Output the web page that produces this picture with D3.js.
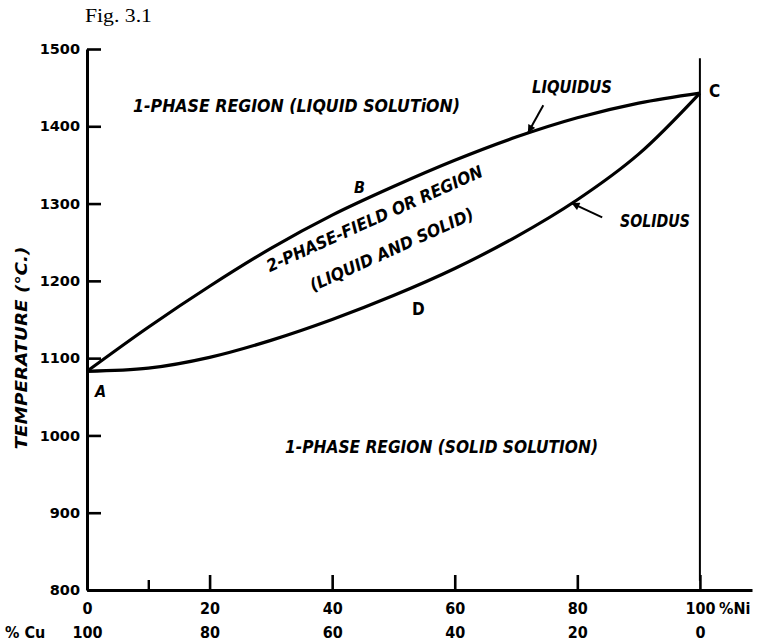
<!DOCTYPE html>
<html>
<head>
<meta charset="utf-8">
<script src="https://cdn.jsdelivr.net/npm/d3@7"></script>
<style>
  html, body { margin: 0; padding: 0; background: #fff; }
  svg { display: block; }
  .cond { font-family: "DejaVu Sans Condensed", "DejaVu Sans", sans-serif; font-weight: bold; }
</style>
</head>
<body>
<svg id="chart" width="765" height="643"></svg>
<script>
// Copper–nickel equilibrium diagram: liquidus and solidus temperature (°C) against nickel content (%)
const nickel       = [0, 10, 20, 30, 40, 50, 60, 70, 80, 90, 100];
const liquidus     = [1083, 1140, 1193, 1242, 1285, 1322, 1356, 1386, 1411, 1430, 1443];
const solidus      = [1083, 1087, 1101, 1123, 1150, 1181, 1216, 1257, 1305, 1364, 1443];
const tempTicks    = [800, 900, 1000, 1100, 1200, 1300, 1400, 1500];
const nickelTicks  = [0, 20, 40, 60, 80, 100];
const minorTicks   = [10];
const copperLabels = [100, 80, 60, 40, 20, 0];
// where the two labelling arrows touch the curves (nickel %)
const liquidusArrowAt = 72;
const solidusArrowAt  = 79;

const svg = d3.select("#chart");

const x = d3.scaleLinear().domain([0, 108.5]).range([87, 752]);
const y = d3.scaleLinear().domain([800, 1500]).range([590, 49]);

const liqPts = nickel.map((n, i) => [n, liquidus[i]]);
const solPts = nickel.map((n, i) => [n, solidus[i]]);
const interp = (pts, n) => {
  const i = Math.min(pts.length - 2, Math.floor(n / 10));
  const t = (n - pts[i][0]) / (pts[i + 1][0] - pts[i][0]);
  return pts[i][1] + t * (pts[i + 1][1] - pts[i][1]);
};

// ---- axes ----
const yAxis = d3.axisLeft(y).tickValues(tempTicks).tickFormat(d3.format("d"))
  .tickSizeInner(-14).tickSizeOuter(0).tickPadding(7);
const yG = svg.append("g").attr("transform", `translate(${x(0)},0)`).call(yAxis);
yG.select(".domain").attr("stroke", "#000").attr("stroke-width", 3);
yG.selectAll(".tick line").attr("stroke", "#000").attr("stroke-width", 2.6);
yG.selectAll(".tick text")
  .attr("font-family", "'DejaVu Sans', sans-serif").attr("font-weight", "bold")
  .attr("font-size", 14.5).attr("fill", "#000");

const xAxis = d3.axisBottom(x).tickValues(nickelTicks)
  .tickSizeInner(-15).tickSizeOuter(0).tickPadding(13);
const xG = svg.append("g").attr("transform", `translate(0,${y(800)})`).call(xAxis);
xG.select(".domain").attr("stroke", "#000").attr("stroke-width", 3);
xG.selectAll(".tick line").attr("stroke", "#000").attr("stroke-width", 2.6);
xG.selectAll(".tick text").attr("class", "cond").attr("font-size", 16).attr("fill", "#000");

const xMinor = d3.axisBottom(x).tickValues(minorTicks).tickSizeInner(-10).tickSizeOuter(0).tickFormat("");
const xmG = svg.append("g").attr("transform", `translate(0,${y(800)})`).call(xMinor);
xmG.select(".domain").remove();
xmG.selectAll(".tick line").attr("stroke", "#000").attr("stroke-width", 2.4);

const cuAxis = d3.axisBottom(x).tickValues(nickelTicks)
  .tickSize(0).tickPadding(37).tickFormat((d, i) => copperLabels[i]);
const cuG = svg.append("g").attr("transform", `translate(0,${y(800)})`).call(cuAxis);
cuG.select(".domain").remove();
cuG.selectAll(".tick text").attr("class", "cond").attr("font-size", 16).attr("fill", "#000");

svg.append("text").attr("class", "cond").attr("x", 719).attr("y", y(800) + 13 + 11.4)
  .attr("font-size", 16).text("%Ni");
svg.append("text").attr("class", "cond").attr("x", 5).attr("y", y(800) + 37 + 11.4)
  .attr("font-size", 16).text("% Cu");

// pure nickel boundary
svg.append("line")
  .attr("x1", x(100)).attr("x2", x(100))
  .attr("y1", y(1488)).attr("y2", y(812))
  .attr("stroke", "#000").attr("stroke-width", 2);

// ---- liquidus & solidus ----
const line = d3.line().x(d => x(d[0])).y(d => y(d[1])).curve(d3.curveCatmullRom.alpha(0.5));
svg.append("path").datum(liqPts).attr("d", line)
  .attr("fill", "none").attr("stroke", "#000").attr("stroke-width", 3.2).attr("stroke-linejoin", "round");
svg.append("path").datum(solPts).attr("d", line)
  .attr("fill", "none").attr("stroke", "#000").attr("stroke-width", 3.2).attr("stroke-linejoin", "round");

// ---- arrows naming the curves ----
svg.append("defs").append("marker")
  .attr("id", "head").attr("viewBox", "0 0 10 10").attr("refX", 9).attr("refY", 5)
  .attr("markerWidth", 9).attr("markerHeight", 8).attr("markerUnits", "userSpaceOnUse")
  .attr("orient", "auto")
  .append("path").attr("d", "M0,0L10,5L0,10Z").attr("fill", "#000");

const lx = x(liquidusArrowAt), ly = y(interp(liqPts, liquidusArrowAt));
svg.append("line").attr("x1", lx + 15).attr("y1", ly - 28).attr("x2", lx).attr("y2", ly - 1)
  .attr("stroke", "#000").attr("stroke-width", 2).attr("marker-end", "url(#head)");
const sx = x(solidusArrowAt), sy = y(interp(solPts, solidusArrowAt));
svg.append("line").attr("x1", sx + 31).attr("y1", sy + 14).attr("x2", sx + 1).attr("y2", sy)
  .attr("stroke", "#000").attr("stroke-width", 2).attr("marker-end", "url(#head)");

// ---- text ----
svg.append("text").attr("x", 85).attr("y", 22)
  .attr("font-family", "'Liberation Serif', serif").attr("font-size", 19)
  .attr("textLength", 67).attr("lengthAdjust", "spacingAndGlyphs").text("Fig. 3.1");

const label = (txt, px, py, size, len, opts = {}) => {
  const t = svg.append("text").attr("class", "cond").attr("font-size", size)
    .attr("x", px).attr("y", py).attr("font-style", opts.italic === false ? "normal" : "italic")
    .attr("text-anchor", opts.anchor || "start").text(txt);
  if (len) t.attr("textLength", len).attr("lengthAdjust", "spacingAndGlyphs");
  if (opts.rotate) t.attr("transform", `rotate(${opts.rotate},${px},${py})`);
  if (opts.weight) t.attr("font-weight", opts.weight);
  return t;
};

label("1-PHASE REGION (LIQUID SOLUTiON)", 133, 112, 17, 327);
label("1-PHASE REGION (SOLID SOLUTION)", 285, 453, 17, 313);
label("LIQUIDUS", 532, 93, 17, 80);
label("SOLIDUS", 620, 227, 17, 70);
label("2-PHASE-FIELD OR REGION", 377, 224, 17, 235, { anchor: "middle", rotate: -24.2 });
label("(LIQUID AND SOLID)", 394, 255, 17, 178, { anchor: "middle", rotate: -24.3 });
label("A", 95, 397, 16, null);
label("B", 354, 193, 16, null);
label("D", 412, 315, 17, null, { italic: false });
label("C", 709, 97, 17, null, { italic: false, weight: "normal" });

label("TEMPERATURE (°C.)", 27, 348, 16, 203, { anchor: "middle", rotate: -90 });
</script>
</body>
</html>
